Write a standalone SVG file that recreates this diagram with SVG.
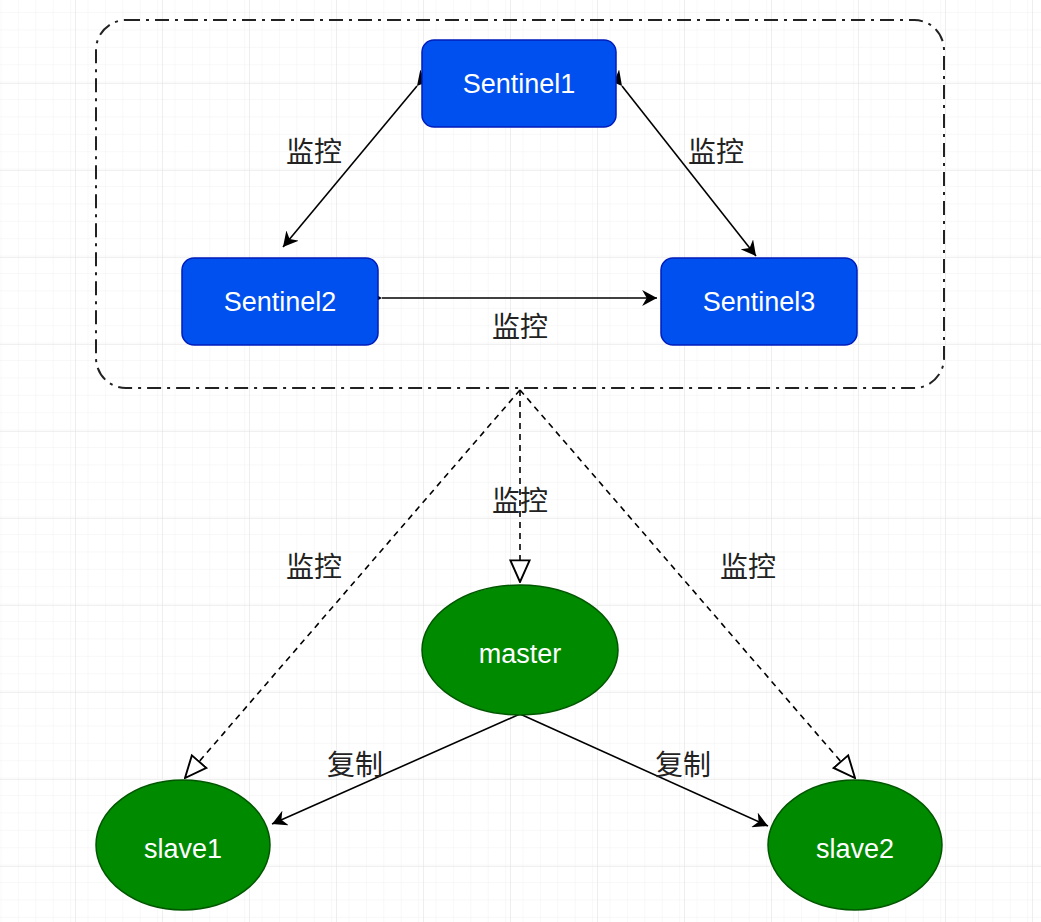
<svg xmlns="http://www.w3.org/2000/svg" width="1041" height="922" viewBox="0 0 1041 922">
<style>
.s{fill:#0050ef;stroke:#001dbc;stroke-width:1.5}
.m{fill:#008a00;stroke:#005700;stroke-width:1.5}
.t{font-family:"Liberation Sans",Arial,sans-serif;font-size:27px;fill:#fff;text-anchor:middle}
.l{font-family:"Liberation Sans","Noto Sans CJK SC",sans-serif;font-size:28px;fill:#222;text-anchor:middle}
.c{stroke:#000;stroke-width:1.6;fill:none}
.d{stroke:#000;stroke-width:1.6;fill:none;stroke-dasharray:6 5}
</style>
<defs>
<pattern id="g1" width="17.4" height="17.4" patternUnits="userSpaceOnUse" x="1.5" y="13"><path d="M17.4 0V17.4H0" fill="none" stroke="#f1f1f1" stroke-width="1"/></pattern>
<pattern id="g2" width="87" height="87" patternUnits="userSpaceOnUse" x="75" y="83"><path d="M0 0V87M0 0H87" fill="none" stroke="#e2e2e2" stroke-width="1.2"/></pattern>
<marker id="a" viewBox="0 0 10 10" refX="9" refY="5" markerWidth="10" markerHeight="10" markerUnits="userSpaceOnUse" orient="auto-start-reverse"><path d="M0 0L10 5L0 10L3 5Z" fill="#000"/></marker>
<marker id="a2" viewBox="0 0 14 14" refX="13" refY="7" markerWidth="16" markerHeight="16" markerUnits="userSpaceOnUse" orient="auto"><path d="M0 0L13 7L0 14L4 7Z" fill="#000"/></marker>
<marker id="o" viewBox="0 0 20 20" refX="19" refY="10" markerWidth="24" markerHeight="24" markerUnits="userSpaceOnUse" orient="auto"><path d="M1 2L19 10L1 18Z" fill="#fff" stroke="#000" stroke-width="1.6"/></marker>
</defs>
<rect width="1041" height="922" fill="#fff"/>
<rect width="1041" height="922" fill="url(#g1)"/>
<rect width="1041" height="922" fill="url(#g2)"/>
<rect x="96" y="20" width="848" height="368" rx="30" fill="none" stroke="#222" stroke-width="2" stroke-dasharray="14 6 3 6"/>
<g id="connectors">
<path class="c" d="M417 86L283 247" marker-start="url(#a2)" marker-end="url(#a2)"/>
<path class="c" d="M622 86L756 256" marker-start="url(#a2)" marker-end="url(#a2)"/>
<path class="c" d="M382 298H657" marker-start="url(#a2)" marker-end="url(#a2)"/>
<path class="d" d="M520 390V582" marker-end="url(#o)"/>
<path class="d" d="M520 390L185 778" marker-end="url(#o)"/>
<path class="d" d="M520 390L855 778" marker-end="url(#o)"/>
<path class="c" d="M520 714L272 824" marker-end="url(#a2)"/>
<path class="c" d="M520 714L768 826" marker-end="url(#a2)"/>
<text class="l" x="314" y="162">监控</text>
<text class="l" x="716" y="162">监控</text>
<text class="l" x="520" y="337">监控</text>
<text class="l" x="520" y="511">监控</text>
<text class="l" x="314" y="577">监控</text>
<text class="l" x="748" y="577">监控</text>
<text class="l" x="355" y="775">复制</text>
<text class="l" x="683" y="775">复制</text>
</g>
<g id="sentinel1"><rect class="s" x="422" y="40" width="194" height="87" rx="12"/><text class="t" x="519" y="93">Sentinel1</text></g>
<g id="sentinel2"><rect class="s" x="182" y="258" width="196" height="87" rx="12"/><text class="t" x="280" y="311">Sentinel2</text></g>
<g id="sentinel3"><rect class="s" x="661" y="258" width="196" height="87" rx="12"/><text class="t" x="759" y="311">Sentinel3</text></g>
<g id="master"><ellipse class="m" cx="520" cy="650" rx="98" ry="65"/><text class="t" x="520" y="663">master</text></g>
<g id="slave1"><ellipse class="m" cx="183" cy="845" rx="87" ry="65"/><text class="t" x="183" y="858">slave1</text></g>
<g id="slave2"><ellipse class="m" cx="855" cy="845" rx="87" ry="65"/><text class="t" x="855" y="858">slave2</text></g>
</svg>
